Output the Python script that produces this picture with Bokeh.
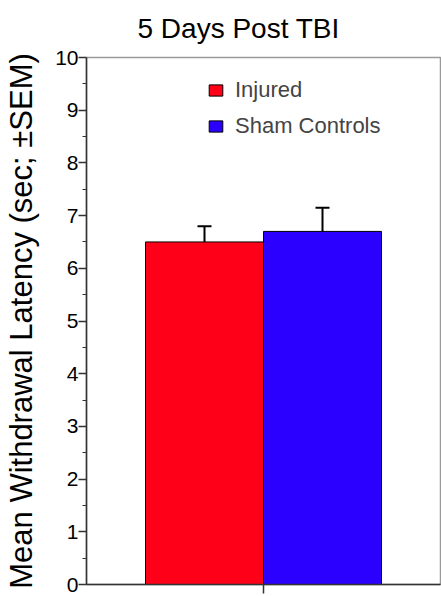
import numpy as np
from bokeh.plotting import figure
from bokeh.models import (Range1d, FixedTicker, Whisker, TeeHead, ColumnDataSource,
                          Legend, LegendItem)
from bokeh.embed import file_html
from bokeh.resources import INLINE

title_text = "5 Days Post TBI"
y_label = "Mean Withdrawal Latency (sec; ±SEM)"
groups = ["Injured", "Sham Controls"]
means = [6.5, 6.7]
sems = [0.3, 0.45]
bar_colors = ["#ff0019", "#2b00ff"]
y_ticks = [0, 1, 2, 3, 4, 5, 6, 7, 8, 9, 10]

FONT = "Liberation Sans"

x = [i + 1 for i in range(len(groups))]
upper = [m + s for m, s in zip(means, sems)]
src = ColumnDataSource(dict(x=x, top=means, upper=upper, group=groups, color=bar_colors))

p = figure(width=441, height=596,
           x_range=Range1d(0, len(groups) + 1), y_range=Range1d(y_ticks[0], y_ticks[-1]),
           output_backend="svg", toolbar_location=None,
           min_border_left=86, min_border_right=1, min_border_top=56, min_border_bottom=12)

p.title.text = title_text
p.title.align = "left"
p.title.vertical_align = "top"
p.title.offset = 51
p.title.text_font = FONT
p.title.text_font_size = "28px"
p.title.text_font_style = "normal"
p.title.text_color = "black"
p.title.standoff = 24

r = p.vbar(x="x", top="top", bottom=0, width=1, fill_color="color",
           line_color="black", line_width=1, source=src)

w = Whisker(source=src, base="x", lower="top", upper="upper",
            line_width=2, line_color="black",
            upper_head=TeeHead(size=14, line_width=2, line_color="black"),
            lower_head=None, level="overlay")
p.add_layout(w)

legend = Legend(items=[LegendItem(label=g, renderers=[r], index=i) for i, g in enumerate(groups)],
                location=(121, 445), padding=0, margin=0, spacing=10,
                glyph_width=17, glyph_height=14, label_standoff=11,
                label_text_font=FONT, label_text_font_size="22px",
                border_line_color=None, background_fill_alpha=0)
p.add_layout(legend)

minor = [(a + b) / 2 for a, b in zip(y_ticks[:-1], y_ticks[1:])]
p.yaxis.ticker = FixedTicker(ticks=y_ticks, minor_ticks=minor)
p.yaxis.axis_label = y_label
p.yaxis.axis_label_text_font = FONT
p.yaxis.axis_label_text_font_size = "31px"
p.yaxis.axis_label_text_font_style = "normal"
p.yaxis.axis_label_text_color = "black"
p.yaxis.axis_label_standoff = 13
p.yaxis.major_label_text_font = FONT
p.yaxis.major_label_text_font_size = "21px"
p.yaxis.major_label_text_color = "black"
p.yaxis.major_label_standoff = 0
p.yaxis.major_tick_out = 8
p.yaxis.major_tick_in = 0
p.yaxis.minor_tick_out = 4
p.yaxis.minor_tick_in = 0
p.yaxis.axis_line_width = 1.5
p.yaxis.axis_line_color = "#333333"
p.yaxis.major_tick_line_color = "#333333"
p.yaxis.minor_tick_line_color = "#333333"
p.yaxis.major_tick_line_width = 1.5

center = sum(x) / len(x)
p.xaxis.ticker = FixedTicker(ticks=[center], minor_ticks=[])
p.xaxis.major_label_text_color = None
p.xaxis.major_label_text_font_size = "1px"
p.xaxis.major_label_standoff = 0
p.xaxis.major_tick_out = 9
p.xaxis.major_tick_in = 0
p.xaxis.axis_line_width = 1.5
p.xaxis.axis_line_color = "#333333"
p.xaxis.major_tick_line_color = "#333333"
p.xaxis.major_tick_line_width = 1.5

p.xgrid.visible = False
p.ygrid.visible = False
p.outline_line_color = "#9a9a9a"
p.outline_line_width = 1.5

open("out.html", "w").write(file_html(p, INLINE))
